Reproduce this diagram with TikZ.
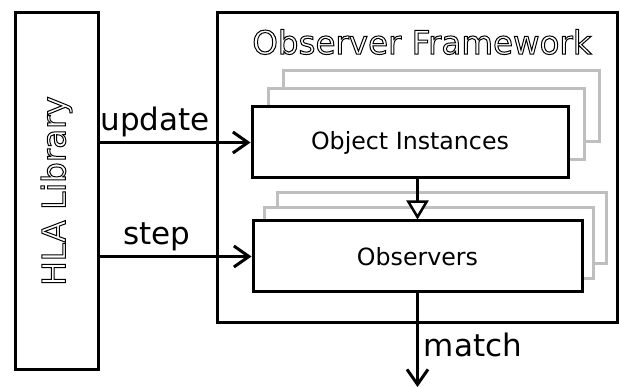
\documentclass[tikz,border=0pt]{standalone}
\usepackage{fontspec}
\setmainfont{DejaVu Sans}
\usetikzlibrary{arrows.meta}

\tikzset{
  frame/.style={draw=black, line width=3pt, fill=white, inner sep=0pt},
  ghost/.style={draw=black!25, line width=3pt, fill=white, inner sep=0pt},
  flow/.style={line width=3pt, -{Straight Barb[length=15pt, width=21pt, line width=3pt]}},
  hollow/.style={line width=3pt, -{Triangle[length=19pt, width=22pt, fill=white, line width=2.5pt]}},
  lbl/.style={font=\fontsize{31}{36}\selectfont, inner sep=0pt},
  inlbl/.style={font=\fontsize{23.7}{28}\selectfont},
  outlined/.style={font=\fontsize{32.5}{38}\selectfont, inner sep=0pt}
}
% glyphs stroked only (PDF text render mode 1)
\newcommand{\hollowtext}[1]{\special{pdf:literal direct 1 Tr 1 w}#1\special{pdf:literal direct 0 Tr}}

\begin{document}
\begin{tikzpicture}[x=1pt, y=-1pt]
\useasboundingbox (0,0) rectangle (621,387);

% library column on the left
\node[frame, minimum width=83pt, minimum height=356pt] (hla) at (56.5,191) {};
\node[outlined, rotate=90] (hlatext) at (hla.center) {\hollowtext{HLA Library}};

% framework enclosure
\node[frame, minimum width=400pt, minimum height=309pt] (fw) at (417,167.5) {};
\node[outlined] (fwtitle) at (422,42) {\hollowtext{Observer Framework}};

% stacked object instance boxes
\node[ghost, minimum width=316pt, minimum height=71pt] (oi2) at (441,106.5) {};
\node[ghost, minimum width=316pt, minimum height=71pt] (oi1) at (426,124.5) {};
\node[frame, minimum width=316pt, minimum height=71pt, inlbl] (oi) at (410,142.5) {Object Instances};

% stacked observer boxes
\node[ghost, minimum width=329pt, minimum height=71pt] (obs2) at (441.5,228.5) {};
\node[ghost, minimum width=329pt, minimum height=71pt] (obs1) at (428.5,243.5) {};
\node[frame, minimum width=329pt, minimum height=71pt, inlbl] (obs) at (417.5,256.5) {Observers};

% connectors
\draw[flow] (oi.west -| hla.east) -- (oi.west);
\draw[flow] (obs.west -| hla.east) -- (obs.west);
\draw[hollow] (obs.north |- oi.south) -- (obs.north);
\coordinate (out) at (obs.south |- 0,387);
\draw[flow] (obs.south) -- (out);

% connector labels
\node[lbl] (lupdate) at (155,122) {update};
\node[lbl] (lstep) at (157,237) {step};
\node[lbl] (lmatch) at (473,345) {match};
\end{tikzpicture}
\end{document}
